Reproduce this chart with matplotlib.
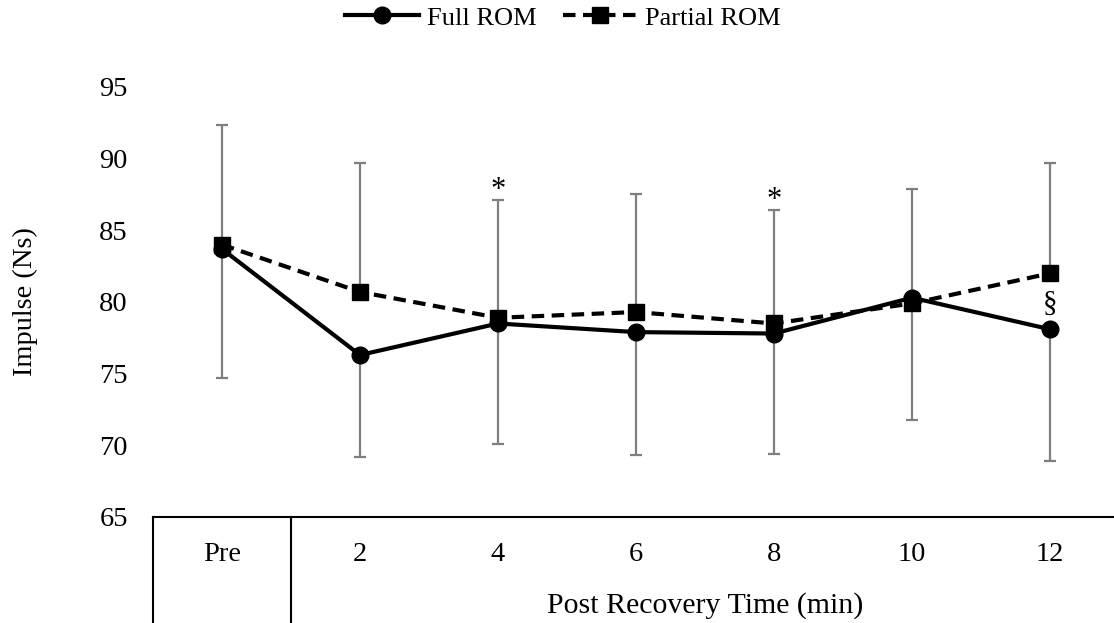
import matplotlib
matplotlib.use("Agg")
import matplotlib.pyplot as plt
import matplotlib.transforms as mtransforms

categories = ['Pre', '2', '4', '6', '8', '10', '12']
full_rom = [83.7, 76.3, 78.5, 77.9, 77.8, 80.3, 78.1]
partial_rom = [84.0, 80.7, 78.9, 79.3, 78.5, 79.9, 82.0]
partial_err_plus = [8.35, 9.0, 8.2, 8.2, 7.9, 8.0, 7.7]
full_err_minus = [9.0, 7.1, 8.4, 8.6, 8.4, 8.5, 9.2]
yticks = [65, 70, 75, 80, 85, 90, 95]
star_idx = [2, 4]
section_idx = [6]

plt.rcParams['font.family'] = ['Liberation Serif', 'DejaVu Serif']

fig = plt.figure(figsize=(11.14, 6.23), dpi=100)
ax = fig.add_axes([153/1114, 106/623, 966/1114, 430/623])
x = list(range(len(categories)))
zero = [0]*len(x)

ecol = '#7f7f7f'
ax.errorbar(x, partial_rom, yerr=[zero, partial_err_plus], fmt='none',
            ecolor=ecol, elinewidth=1.6, capsize=4.3, capthick=1.6, zorder=1)
ax.errorbar(x, full_rom, yerr=[full_err_minus, zero], fmt='none',
            ecolor=ecol, elinewidth=1.6, capsize=4.3, capthick=1.6, zorder=1)

ax.plot(x, full_rom, color='black', lw=3, marker='o', ms=12,
        label='Full ROM', zorder=3)
ax.plot(x, partial_rom, color='black', lw=3, ls=(0, (3, 1.8)), marker='s',
        ms=11, label='Partial ROM', zorder=3)

for i in star_idx:
    ax.annotate('*', (x[i], partial_rom[i] + partial_err_plus[i]),
                xytext=(0, 7), textcoords='offset points',
                ha='center', va='center', fontsize=22)
for i in section_idx:
    ax.annotate('§', (x[i], (full_rom[i] + partial_rom[i]) / 2),
                xytext=(0, -2), textcoords='offset points',
                ha='center', va='center', fontsize=21)

ax.set_xlim(-0.5, len(x) - 0.5)
ax.set_ylim(65, 95)
ax.set_yticks(yticks)
ax.set_xticks(x)
ax.set_xticklabels(categories)
ax.tick_params(axis='both', length=0, labelsize=20.5)
ax.tick_params(axis='y', pad=18)
ax.tick_params(axis='x', pad=18)

for s in ['top', 'right', 'left']:
    ax.spines[s].set_visible(False)
ax.spines['bottom'].set_linewidth(1.5)

# table-like category axis
trans = mtransforms.blended_transform_factory(ax.transData, ax.transAxes)
for xv in [-0.5, 0.5]:
    ax.plot([xv, xv], [0, -0.4], transform=trans, color='black', lw=1.5,
            clip_on=False)
ax.text((0.5 + len(x) - 0.5) / 2, -89/430, 'Post Recovery Time (min)',
        transform=trans, ha='center', va='center', fontsize=21.5)

ax.set_ylabel('Impulse (Ns)', fontsize=20.5, va='center')
ax.yaxis.set_label_coords((25 - 153) / 966, 0.5)

leg = fig.legend(loc='center', bbox_to_anchor=(563/1114, 1 - 18/623), ncol=2,
                 frameon=False, fontsize=19, handlelength=2.8,
                 columnspacing=1.0, handletextpad=0.3)

fig.savefig('out.png', dpi=100)
